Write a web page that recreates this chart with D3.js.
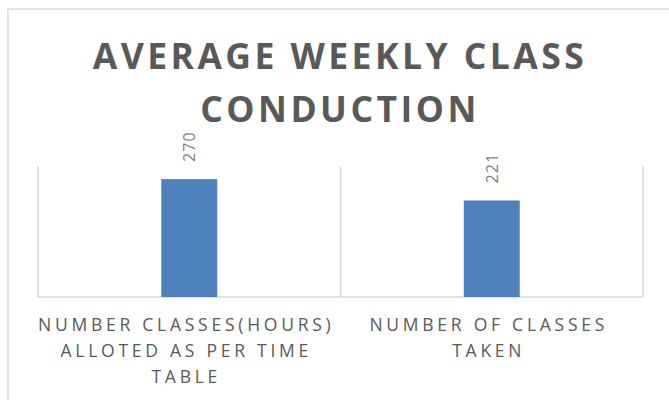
<!DOCTYPE html>
<html><head><meta charset="utf-8">
<script src="https://cdn.jsdelivr.net/npm/d3@7/dist/d3.min.js"></script>
<style>html,body{margin:0;padding:0;background:#fff;}svg{display:block;}</style>
</head><body>
<script>
const title = ["AVERAGE WEEKLY CLASS", "CONDUCTION"];
const categories = [
  ["NUMBER CLASSES(HOURS)", "ALLOTED AS PER TIME", "TABLE"],
  ["NUMBER OF CLASSES", "TAKEN"]
];
const values = [270, 221];
const yDomain = [0, 300];

const W = 669, H = 400;
const svg = d3.select("body").append("svg").attr("width", W).attr("height", H);

// chart border
svg.append("rect").attr("x", 8).attr("y", 9).attr("width", 680).attr("height", 420)
  .attr("fill", "#fff").attr("stroke", "#d9d9d9").attr("stroke-width", 1.5);

const plot = {left: 38, right: 643, top: 166, bottom: 297};
const x = d3.scaleBand().domain(d3.range(values.length)).range([plot.left, plot.right])
  .paddingInner(0.815).paddingOuter(0.4075);
const y = d3.scaleLinear().domain(yDomain).range([plot.bottom, plot.top]);

// vertical gridlines at category boundaries
const bounds = d3.range(values.length + 1).map(i => plot.left + i * (plot.right - plot.left) / values.length);
svg.append("g").selectAll("line").data(bounds).join("line")
  .attr("x1", d => d).attr("x2", d => d).attr("y1", plot.top).attr("y2", plot.bottom)
  .attr("stroke", "#d9d9d9").attr("stroke-width", 1.5);

// axis line
svg.append("line").attr("x1", plot.left).attr("x2", plot.right)
  .attr("y1", plot.bottom).attr("y2", plot.bottom)
  .attr("stroke", "#d9d9d9").attr("stroke-width", 1.5);

// bars
svg.append("g").selectAll("rect").data(values).join("rect")
  .attr("x", (d, i) => x(i)).attr("width", x.bandwidth())
  .attr("y", d => y(d)).attr("height", d => y(0) - y(d))
  .attr("fill", "#4f81bd");

// data labels (rotated)
svg.append("g").selectAll("text").data(values).join("text")
  .attr("transform", (d, i) => `translate(${x(i) + x.bandwidth() / 2 + 6},${y(d) - 17}) rotate(-90)`)
  .attr("font-family", "Open Sans, sans-serif").attr("font-size", 16)
  .attr("letter-spacing", 1.2)
  .attr("fill", "#7f7f7f").text(d => d);

// title
const tg = svg.append("g");
title.forEach((t, i) => {
  tg.append("text").attr("x", 340).attr("y", 69 + i * 52.5)
    .attr("text-anchor", "middle")
    .attr("font-family", "Open Sans, sans-serif").attr("font-weight", 700)
    .attr("font-size", 35.5).attr("letter-spacing", 3.45)
    .attr("fill", "#595959").text(t);
});

// category labels
const cg = svg.append("g");
categories.forEach((lines, i) => {
  lines.forEach((l, j) => {
    cg.append("text").attr("x", x(i) + x.bandwidth() / 2 - 3).attr("y", 331 + j * 26)
      .attr("text-anchor", "middle")
      .attr("font-family", "Open Sans, sans-serif").attr("font-size", 17.5)
      .attr("letter-spacing", 3.75)
      .attr("fill", "#595959").text(l);
  });
});
</script>
</body></html>
